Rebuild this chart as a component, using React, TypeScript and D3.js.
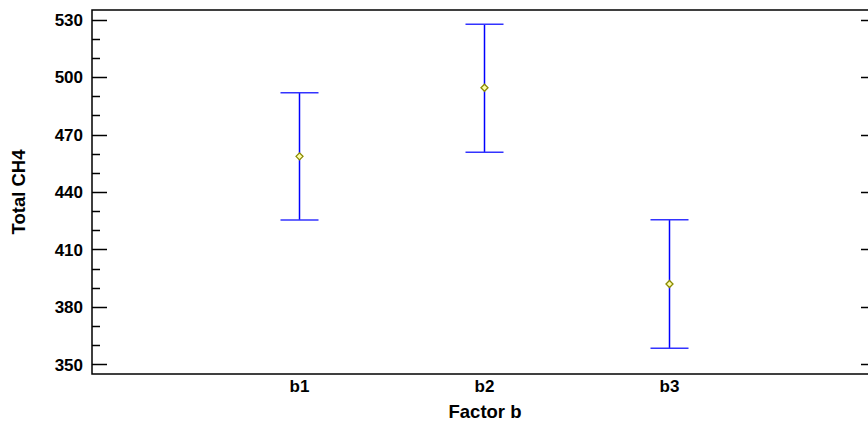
import React from "react";
import * as d3 from "d3";

const categories = ["b1", "b2", "b3"];
const means = [458.6, 494.4, 392.0];
const lowers = [425.4, 460.8, 358.5];
const uppers = [491.8, 527.6, 425.5];
const yTicks = [350, 380, 410, 440, 470, 500, 530];
const yMinor = d3.range(350, 531, 10);

const W = 868, H = 429;
const M = { left: 92, right: 876, top: 10, bottom: 374 };

export default function App() {
  const x = d3.scaleLinear().domain([-1.12, 3.12]).range([M.left, M.right]);
  const xs = d3.scaleLinear().domain([0, 2]).range([299.5, 669.5]);
  const y = d3.scaleLinear().domain([345, 535]).range([M.bottom, M.top]);
  const font = "'Liberation Sans', Arial, sans-serif";
  return (
    <svg width={W} height={H} style={{ position: "absolute", left: 0, top: 0, background: "#fff" }}>
      <rect x={M.left} y={M.top} width={M.right - M.left} height={M.bottom - M.top} fill="none" stroke="#000" strokeWidth={1.5} />
      {yMinor.map((v) => {
        const major = yTicks.includes(v);
        const len = major ? 15 : 8;
        const yy = Math.round(y(v)) + 0.5;
        return (
          <g key={v}>
            <line x1={M.left} x2={M.left + len} y1={yy} y2={yy} stroke="#000" strokeWidth={1.5} />
            <line x1={M.right - len} x2={M.right} y1={yy} y2={yy} stroke="#000" strokeWidth={1.5} />
          </g>
        );
      })}
      {yTicks.map((v) => (
        <text key={v} x={M.left - 9} y={y(v)} dy="0.36em" textAnchor="end" fontFamily={font} fontWeight="bold" fontSize={17}>
          {v}
        </text>
      ))}
      {categories.map((c, i) => {
        const cx = xs(i);
        const my = y(means[i]);
        return (
          <g key={c}>
            <line x1={cx} x2={cx} y1={y(uppers[i])} y2={y(lowers[i])} stroke="#0000ff" strokeWidth={1.5} />
            <line x1={cx - 19} x2={cx + 19} y1={y(uppers[i])} y2={y(uppers[i])} stroke="#3333ff" strokeWidth={1.5} />
            <line x1={cx - 19} x2={cx + 19} y1={y(lowers[i])} y2={y(lowers[i])} stroke="#3333ff" strokeWidth={1.5} />
            <path d={`M${cx - 3.5},${my} L${cx},${my - 3.5} L${cx + 3.5},${my} L${cx},${my + 3.5} Z`} fill="#ffffaa" stroke="#8a8a00" strokeWidth={1.3} />
            <text x={cx} y={392} textAnchor="middle" fontFamily={font} fontWeight="bold" fontSize={17}>{c}</text>
          </g>
        );
      })}
      <text x={485} y={418} textAnchor="middle" fontFamily={font} fontWeight="bold" fontSize={18.5}>Factor b</text>
      <text transform={`translate(25,${(M.top + M.bottom) / 2}) rotate(-90)`} textAnchor="middle" fontFamily={font} fontWeight="bold" fontSize={18.5}>Total CH4</text>
    </svg>
  );
}
